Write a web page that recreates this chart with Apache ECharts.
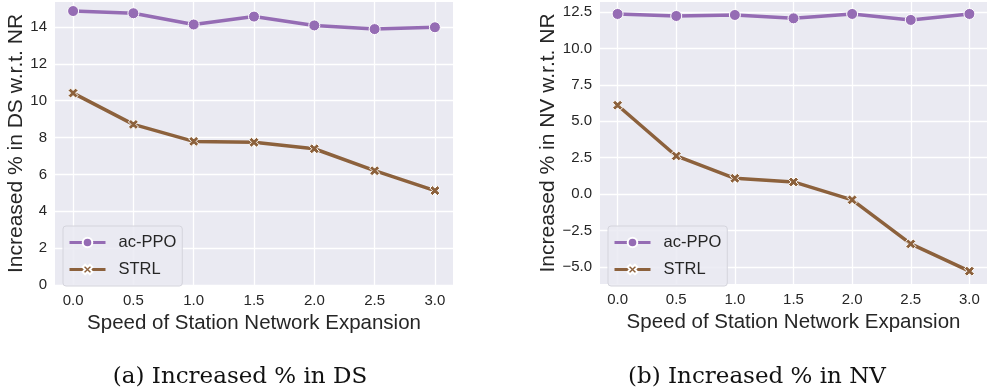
<!DOCTYPE html>
<html>
<head>
<meta charset="utf-8">
<script src="https://cdn.jsdelivr.net/npm/echarts@6/dist/echarts.min.js"></script>
<style>
  html, body { margin: 0; padding: 0; background: #fff; }
  #chart { width: 987px; height: 392px; }
</style>
</head>
<body>
<div id="chart"></div>
<script>
// values
const speeds = [0, 0.5, 1, 1.5, 2, 2.5, 3];
const dsPPO = [14.86, 14.74, 14.13, 14.56, 14.08, 13.88, 13.98];
const dsSTRL = [10.41, 8.71, 7.79, 7.74, 7.39, 6.20, 5.12];
const nvPPO = [12.36, 12.22, 12.29, 12.06, 12.36, 11.95, 12.36];
const nvSTRL = [6.10, 2.62, 1.09, 0.84, -0.39, -3.41, -5.28];
const xTicks = [0, 0.5, 1, 1.5, 2, 2.5, 3];
const dsTicks = [0, 2, 4, 6, 8, 10, 12, 14];
const nvTicks = [-5, -2.5, 0, 2.5, 5, 7.5, 10, 12.5];

const purple = '#956cb4';
const brown = '#8c613c';
const crossPath = 'path://M2.5,0 L5,2.5 L7.5,0 L10,2.5 L7.5,5 L10,7.5 L7.5,10 L5,7.5 L2.5,10 L0,7.5 L2.5,5 L0,2.5 Z';
const sans = 'Liberation Sans';
const textCol = '#262626';

const pairs = ys => speeds.map((x, i) => [x, ys[i]]);
const fmtX = v => v.toFixed(1);
const fmtNV = v => v.toFixed(1).replace('-', '\u2212');

function xAxis(grid) {
  return {
    type: 'value', gridIndex: grid, min: -0.15, max: 3.15,
    name: 'Speed of Station Network Expansion', nameLocation: 'middle', nameGap: 24,
    nameTextStyle: { fontFamily: sans, fontSize: 20.5, color: textCol },
    axisLine: { show: false },
    axisTick: { show: false, customValues: xTicks },
    axisLabel: { customValues: xTicks, formatter: fmtX, fontFamily: sans, fontSize: 15, color: textCol, margin: 8 },
    splitLine: { show: true, lineStyle: { color: '#fff', width: 1.3 } }
  };
}
function yAxis(grid, name, min, max, ticks, fmt) {
  return {
    type: 'value', gridIndex: grid, min: min, max: max,
    name: name, nameLocation: 'middle', nameGap: fmt ? 40 : 26,
    nameTextStyle: { fontFamily: sans, fontSize: 21, color: textCol },
    axisLine: { show: false },
    axisTick: { show: false, customValues: ticks },
    axisLabel: { customValues: ticks, formatter: fmt, fontFamily: sans, fontSize: 15, color: textCol, margin: 8 },
    splitLine: { show: true, lineStyle: { color: '#fff', width: 1.3 } }
  };
}
function line(name, data, grid, color, symbol, size) {
  return {
    name: name, type: 'line', xAxisIndex: grid, yAxisIndex: grid,
    data: pairs(data), symbol: symbol, symbolSize: size,
    lineStyle: { color: color, width: 3.5 },
    itemStyle: { color: color, borderColor: '#fff', borderWidth: 1 },
    emphasis: { disabled: true }, z: 3
  };
}
function legend(left) {
  return {
    data: ['ac-PPO', 'STRL'], orient: 'vertical', left: left, top: 226,
    itemWidth: 36, itemHeight: 12, itemGap: 10,
    padding: [8, 6, 8, 5],
    lineStyle: { width: 3 },
    backgroundColor: 'rgba(234,234,242,0.85)', borderColor: '#d4d4dc', borderWidth: 1, borderRadius: 3,
    textStyle: { fontFamily: sans, fontSize: 16.5, color: textCol, padding: [0, 0, 0, 8] }
  };
}

const chart = echarts.init(document.getElementById('chart'), null, { renderer: 'canvas' });
chart.setOption({
  animation: false,
  backgroundColor: '#fff',
  title: [
    { text: '(a) Increased % in DS', left: 235, top: 361, textAlign: 'center',
      textStyle: { fontFamily: 'DejaVu Serif', fontSize: 23, fontWeight: 'normal', color: '#111' } },
    { text: '(b) Increased % in NV', left: 752, top: 361, textAlign: 'center',
      textStyle: { fontFamily: 'DejaVu Serif', fontSize: 23, fontWeight: 'normal', color: '#111' } }
  ],
  grid: [
    { left: 55, top: 2, width: 398, height: 283, show: true, backgroundColor: '#eaeaf2', borderWidth: 0 },
    { left: 600, top: 2, width: 387, height: 282, show: true, backgroundColor: '#eaeaf2', borderWidth: 0 }
  ],
  legend: [ legend(63), legend(608) ],
  xAxis: [ xAxis(0), xAxis(1) ],
  yAxis: [
    yAxis(0, 'Increased % in DS w.r.t. NR', 0, 15.35, dsTicks, null),
    yAxis(1, 'Increased % in NV w.r.t. NR', -6.16, 13.18, nvTicks, fmtNV)
  ],
  series: [
    line('ac-PPO', dsPPO, 0, purple, 'circle', 11),
    line('STRL', dsSTRL, 0, brown, crossPath, 10),
    line('ac-PPO', nvPPO, 1, purple, 'circle', 11),
    line('STRL', nvSTRL, 1, brown, crossPath, 10)
  ]
});
</script>
</body>
</html>
